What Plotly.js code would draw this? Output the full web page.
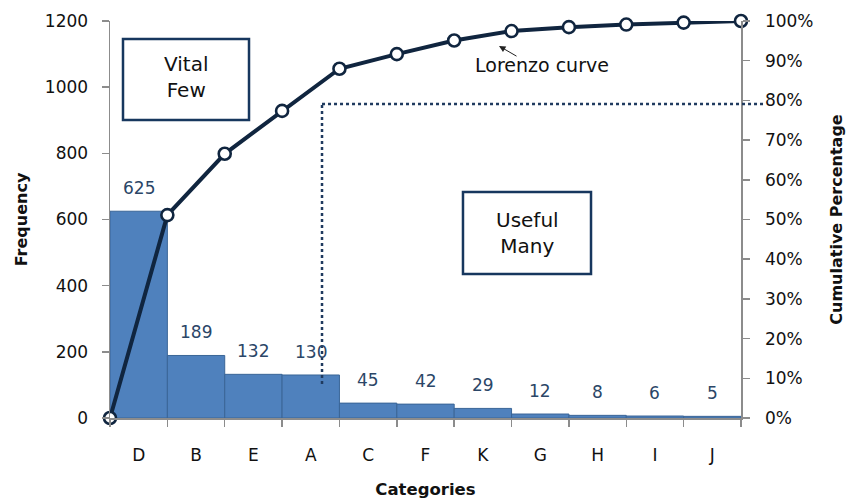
<!DOCTYPE html>
<html>
<head>
<meta charset="utf-8">
<script src="https://cdn.plot.ly/plotly-3.0.1.min.js"></script>
<style>html,body{margin:0;padding:0;background:#fff;}#chart{width:849px;height:499px;}</style>
</head>
<body>
<div id="chart"></div>
<script>
const categories = ["D","B","E","A","C","F","K","G","H","I","J"];
const frequency = [625,189,132,130,45,42,29,12,8,6,5];
const leftTicks = [0,200,400,600,800,1000,1200];
const rightTicks = [0,0.1,0.2,0.3,0.4,0.5,0.6,0.7,0.8,0.9,1.0];

const total = frequency.reduce((a,b)=>a+b,0);
const cumX = [-0.5];
const cumY = [0];
let run = 0;
frequency.forEach((v,i)=>{ run += v; cumX.push(i+0.5); cumY.push(run/total); });

const FONT = "DejaVu Sans";
const NAVY = "#10253F";
const AXIS = "#8c8c8c";

const bars = {
  type: "bar", x: categories, y: frequency, xaxis: "x", yaxis: "y",
  marker: {color: "#4F81BD", line: {color: "#3A6597", width: 1}},
  hoverinfo: "x+y", showlegend: false
};
const curve = {
  type: "scatter", mode: "lines+markers", x: cumX, y: cumY, xaxis: "x2", yaxis: "y2",
  line: {color: NAVY, width: 4},
  marker: {symbol: "circle", size: 12, color: "#ffffff", line: {color: NAVY, width: 2.6}},
  showlegend: false, cliponaxis: false
};

const annotations = categories.map((c,i)=>({
  x: c, y: frequency[i], xref: "x", yref: "y", text: String(frequency[i]),
  showarrow: false, xanchor: "center", yanchor: "bottom", yshift: 11,
  font: {family: FONT, size: 17, color: "#2B4667"}
}));
annotations.push(
  {xref:"paper", yref:"paper", x:0.1204, y:0.859, xanchor:"center", yanchor:"middle",
   text:"Vital<br>Few", showarrow:false, font:{family:FONT, size:20, color:"#111"}, align:"center"},
  {xref:"paper", yref:"paper", x:0.6609, y:0.466, xanchor:"center", yanchor:"middle",
   text:"Useful<br>Many", showarrow:false, font:{family:FONT, size:20, color:"#111"}, align:"center"},
  {xref:"paper", yref:"paper", x:0.6846, y:0.889, xanchor:"center", yanchor:"middle",
   text:"Lorenzo curve", showarrow:false, font:{family:FONT, size:19, color:"#111"}},
  {xref:"paper", yref:"paper", x:0.6165, y:0.937, text:"", showarrow:true,
   ax:19, ay:11, arrowhead:2, arrowsize:1.3, arrowwidth:1, arrowcolor:"#222"}
);

const shapes = [
  {type:"rect", xref:"paper", yref:"paper", x0:0.0206, x1:0.2203, y0:0.7506, y1:0.9547,
   line:{color:"#17375E", width:2.5}, fillcolor:"rgba(255,255,255,1)", layer:"below"},
  {type:"rect", xref:"paper", yref:"paper", x0:0.5594, x1:0.7623, y0:0.3627, y1:0.5693,
   line:{color:"#17375E", width:2.5}, fillcolor:"rgba(255,255,255,0)"},
  {type:"line", xref:"paper", yref:"paper", x0:0.336, x1:0.336, y0:0.0856, y1:0.791,
   line:{color:"#1F3A5F", width:2.5, dash:"dot"}},
  {type:"line", xref:"paper", yref:"paper", x0:0.336, x1:1.035, y0:0.791, y1:0.791,
   line:{color:"#1F3A5F", width:2.5, dash:"dot"}}
];

const layout = {
  width: 849, height: 499,
  margin: {l:110, r:108, t:21, b:81, pad:0},
  paper_bgcolor: "#fff", plot_bgcolor: "rgba(0,0,0,0)",
  bargap: 0,
  font: {family: FONT, size: 17, color: "#111"},
  xaxis: {
    type: "category", range: [-0.5, 10.5], tickson: "boundaries",
    ticks: "outside", ticklen: 7, tickcolor: AXIS, tickwidth: 1.5,
    showline: true, linecolor: AXIS, linewidth: 1.5, showgrid: false, zeroline: false,
    tickfont: {family: FONT, size: 17, color: "#111"}, ticklabelstandoff: 21,
    title: {text: "Categories", font: {family: FONT, size: 16.5, color: "#111", weight: "bold"}, standoff: 20},
    fixedrange: true
  },
  xaxis2: {overlaying: "x", range: [-0.5, 10.5], visible: false, fixedrange: true},
  yaxis: {
    range: [0, 1200], tickvals: leftTicks, ticks: "outside", ticklen: 7, tickcolor: AXIS, tickwidth: 1.5,
    showline: true, linecolor: AXIS, linewidth: 1.5, showgrid: false, zeroline: false,
    tickfont: {family: FONT, size: 17, color: "#111"}, ticklabelstandoff: 10,
    title: {text: "Frequency", font: {family: FONT, size: 16, color: "#111", weight: "bold"}, standoff: 13},
    fixedrange: true
  },
  yaxis2: {
    overlaying: "y", side: "right", range: [0, 1], tickvals: rightTicks, tickformat: ".0%",
    ticks: "outside", ticklen: 7, tickcolor: AXIS, tickwidth: 1.5,
    showline: true, linecolor: AXIS, linewidth: 1.5, showgrid: false, zeroline: false,
    tickfont: {family: FONT, size: 17, color: "#111"}, ticklabelstandoff: 12,
    title: {text: "Cumulative Percentage", font: {family: FONT, size: 16, color: "#111", weight: "bold"}, standoff: 18},
    fixedrange: true
  },
  annotations: annotations,
  shapes: shapes
};

Plotly.newPlot("chart", [bars, curve], layout, {displayModeBar: false, staticPlot: true});
</script>
</body>
</html>
